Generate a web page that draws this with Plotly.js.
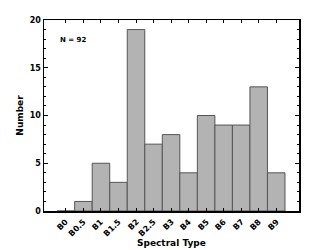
<!DOCTYPE html>
<html><head><meta charset="utf-8">
<script src="https://cdn.plot.ly/plotly-3.0.1.min.js"></script>
<style>html,body{margin:0;padding:0;background:#fff}#c{width:332px;height:250px}</style>
</head><body><div id="c"></div>
<script>
const categories = ["B0","B0.5","B1","B1.5","B2","B2.5","B3","B4","B5","B6","B7","B8","B9"];
const counts = [0,1,5,3,19,7,8,4,10,9,9,13,4];
const yTicks = [0,5,10,15,20];
const F = "DejaVu Sans";
const tickAnns = categories.map(c => ({
  text: c, xref: "x", yref: "paper", x: c, y: -0.052, xshift: 3.5,
  xanchor: "right", yanchor: "middle", textangle: 0, showarrow: false,
  font: {family: F, size: 8, color: "#000", weight: "bold"}
}));
const gd = document.getElementById("c");
Plotly.newPlot(gd, [{
  type: "bar", x: categories, y: counts, width: 1,
  marker: {color: "#b3b3b3", line: {color: "#555555", width: 1}},
  hoverinfo: "none"
}], {
  width: 332, height: 250,
  margin: {l: 44, r: 33, t: 20, b: 39},
  paper_bgcolor: "#fff", plot_bgcolor: "#fff",
  showlegend: false, bargap: 0,
  xaxis: {
    type: "category", range: [-1.25, 13.3], showticklabels: false,
    ticks: "inside", ticklen: 3, tickcolor: "#000",
    showline: true, linecolor: "#000", linewidth: 1.5, mirror: "allticks",
    showgrid: false, zeroline: false, automargin: false
  },
  yaxis: {
    range: [0, 20], tickmode: "array", tickvals: yTicks, ticktext: yTicks.map(String),
    ticks: "inside", ticklen: 4, tickcolor: "#000",
    minor: {dtick: 1, ticks: "inside", ticklen: 2, tickcolor: "#000", showgrid: false},
    showline: true, linecolor: "#000", linewidth: 1.5, mirror: "allticks",
    showgrid: false, zeroline: false, automargin: false,
    tickfont: {family: F, size: 8, color: "#000", weight: "bold"},
    title: {text: "Number", font: {family: F, size: 9, color: "#000", weight: "bold"}, standoff: 4}
  },
  annotations: tickAnns.concat([{
    text: "N = 92", xref: "paper", yref: "paper", x: 0.055, y: 0.895,
    xanchor: "left", yanchor: "middle", showarrow: false,
    font: {family: F, size: 7, color: "#000", weight: "bold"}
  }, {
    text: "Spectral Type", xref: "paper", yref: "paper", x: 0.5, y: -0.168,
    xanchor: "center", yanchor: "middle", showarrow: false,
    font: {family: F, size: 9, color: "#000", weight: "bold"}
  }])
}, {staticPlot: true, displayModeBar: false});
function rotateLabels() {
  const set = new Set(categories);
  gd.querySelectorAll(".annotation-text").forEach(t => {
    const s = (t.textContent || "").trim();
    if (!set.has(s) || t.dataset.rot) return;
    const b = t.getBBox();
    const cx = b.x + b.width, cy = b.y + b.height / 2;
    t.style.transformBox = "view-box";
    t.style.transformOrigin = cx + "px " + cy + "px";
    t.style.transform = "rotate(-45deg)";
    t.dataset.rot = "1";
  });
}
rotateLabels();
</script></body></html>
